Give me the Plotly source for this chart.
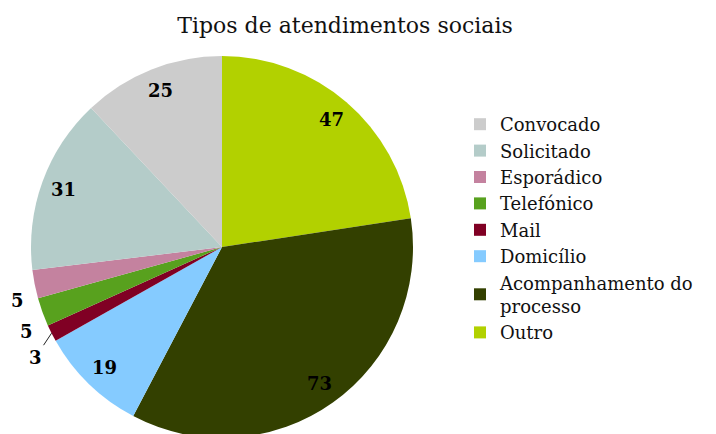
import math
import plotly.graph_objects as go

labels = ["Outro", "Acompanhamento do<br>processo", "Domicílio", "Mail",
          "Telefónico", "Esporádico", "Solicitado", "Convocado"]
values = [47, 73, 19, 3, 5, 5, 31, 25]
colors = ["#B2D100", "#334000", "#85CBFF", "#800024",
          "#58A11E", "#C4829F", "#B4CCC9", "#CCCCCC"]
label_place = ["inside", "inside", "inside", "leader",
               "outside", "outside", "inside", "inside"]

W, H = 716, 434
# page body has an 8px margin; figure coords are offset by (8, 8)
R_PX = 191
CX_PX, CY_PX = 214, 239
dom_x = [(CX_PX - R_PX) / W, (CX_PX + R_PX) / W]
dom_y = [1 - (CY_PX + R_PX) / H, 1 - (CY_PX - R_PX) / H]

fig = go.Figure(go.Pie(
    labels=labels, values=values, sort=False, direction="clockwise", rotation=0,
    marker=dict(colors=colors, line=dict(width=0)),
    textinfo="none", domain=dict(x=dom_x, y=dom_y),
    hoverinfo="label+value",
))

# value labels placed from the data (mid-angle of each slice)
total = sum(values)
cx = (dom_x[0] + dom_x[1]) / 2
cy = (dom_y[0] + dom_y[1]) / 2
rx = (dom_x[1] - dom_x[0]) / 2
ry = (dom_y[1] - dom_y[0]) / 2
lab_font = dict(family="DejaVu Serif", size=18, color="#000000", weight="bold")
cum = 0
for v, place in zip(values, label_place):
    mid = (cum + v / 2) / total * 2 * math.pi
    cum += v
    s, c = math.sin(mid), math.cos(mid)
    if place == "inside":
        f = 0.88
    elif place == "outside":
        f = 1.10
    else:
        f = 1.0
    x = cx + f * rx * s
    y = cy + f * ry * c
    if place == "leader":
        fig.add_annotation(x=x, y=y, xref="paper", yref="paper", text=str(v),
                           showarrow=True, arrowhead=0, arrowwidth=1, arrowcolor="#222222",
                           ax=-16, ay=24, font=lab_font, standoff=0)
    elif place == "outside":
        fig.add_annotation(x=x, y=y, xref="paper", yref="paper", text=str(v),
                           showarrow=False, font=lab_font, yshift=-13, xshift=2,
                           xanchor="center", yanchor="middle")
    else:
        fig.add_annotation(x=x, y=y, xref="paper", yref="paper", text=str(v),
                           showarrow=False, font=lab_font,
                           xanchor="center", yanchor="middle")

fig.update_layout(
    width=W, height=H,
    margin=dict(l=0, r=0, t=0, b=0),
    paper_bgcolor="white", plot_bgcolor="white",
    font=dict(family="DejaVu Serif", color="#111111"),
    title=dict(text="Tipos de atendimentos sociais", x=337 / W, xanchor="center",
               y=1 - 17 / H, yanchor="middle", yref="container",
               font=dict(family="DejaVu Serif", size=22, color="#111111")),
    legend=dict(x=452 / W, y=1 - 98 / H, xanchor="left", yanchor="top",
                font=dict(family="DejaVu Serif", size=18, color="#111111"),
                traceorder="reversed", itemwidth=30, tracegroupgap=0),
    showlegend=True,
)

fig.write_html("out.html")
